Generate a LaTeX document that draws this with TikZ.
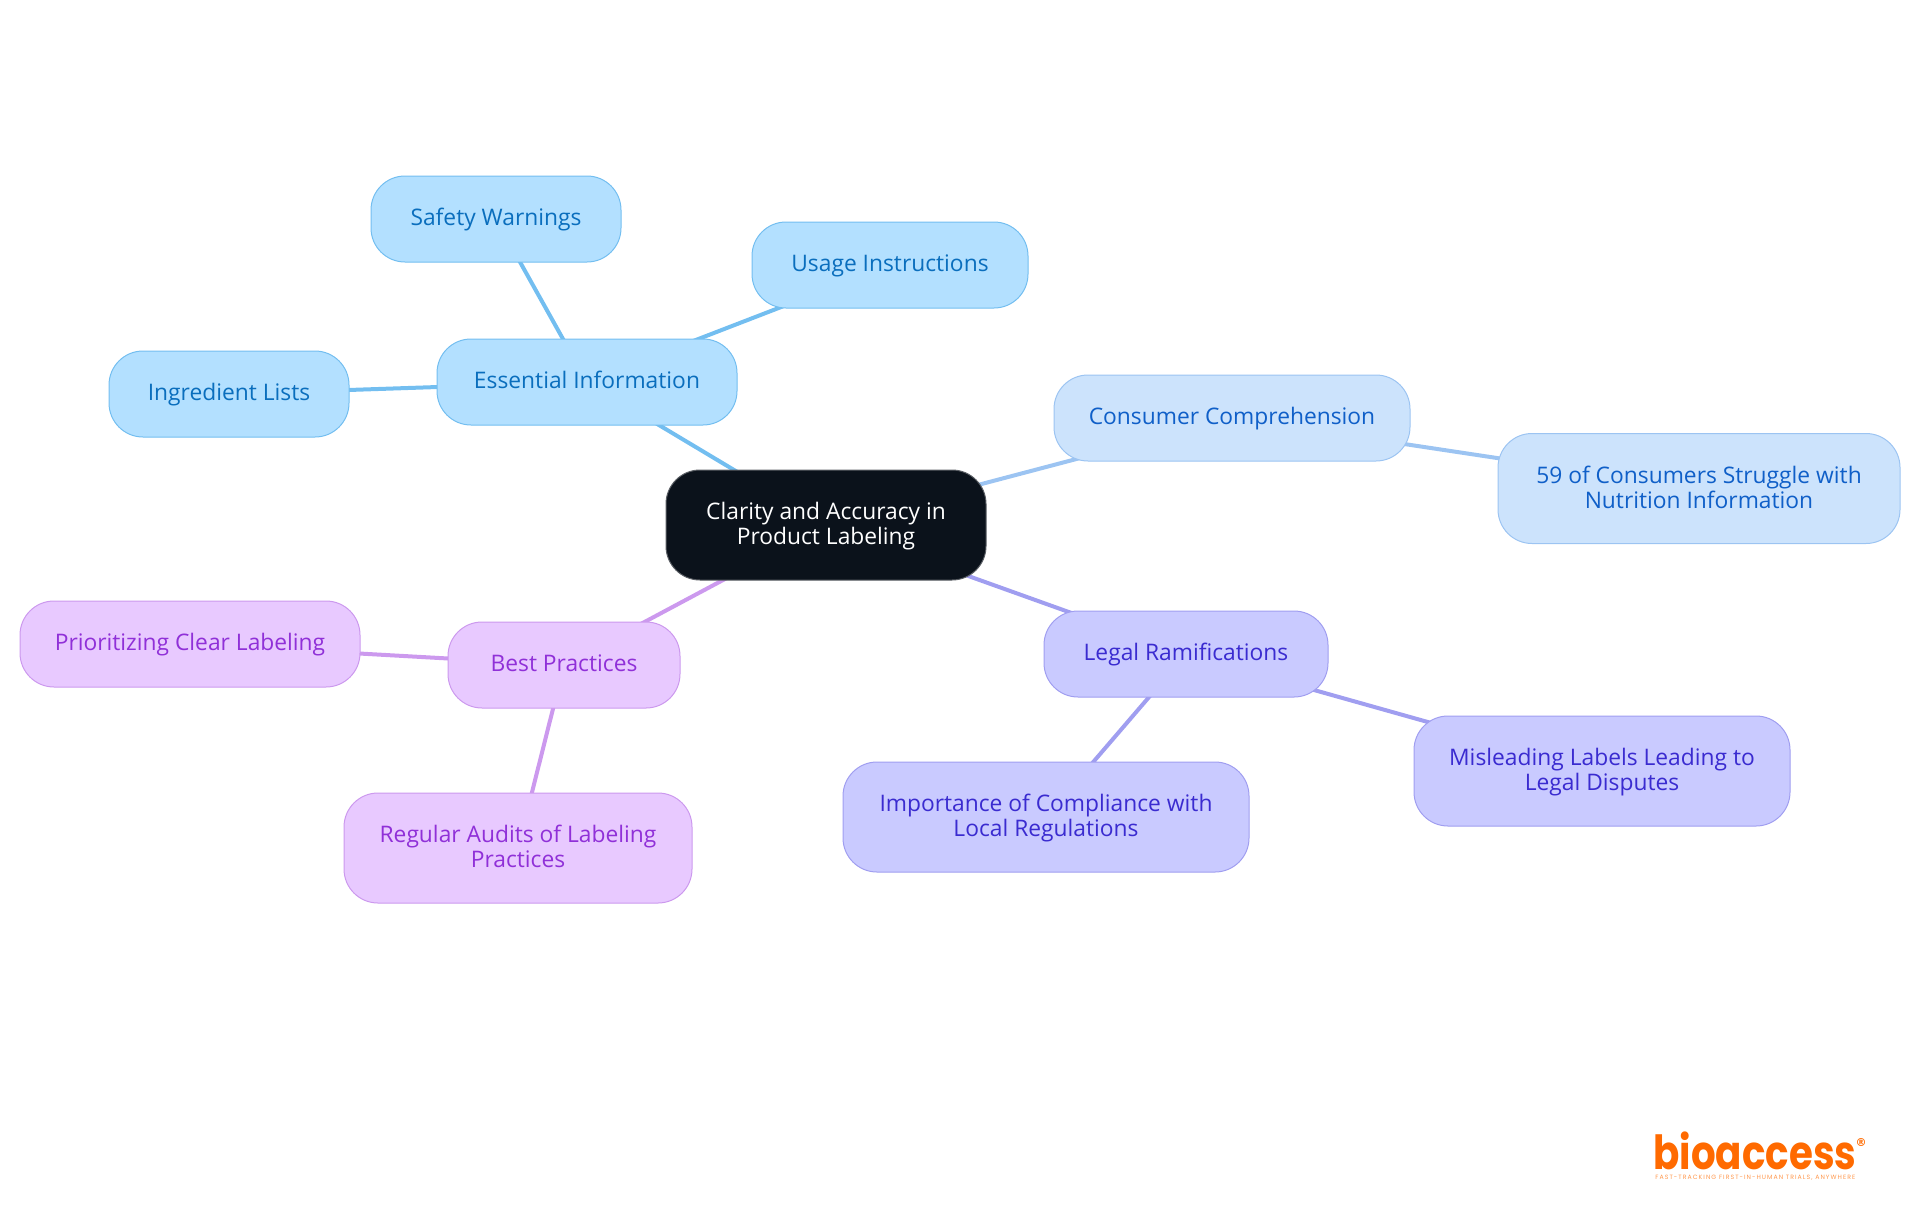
\documentclass[tikz,border=0pt]{standalone}
\usepackage{fontspec}
\setmainfont{Open Sans}
\newfontfamily\logofont{Poppins}
\newfontfamily\markfont{DejaVu Sans}
\newfontfamily\tagfont[LetterSpace=17]{Poppins}
\usetikzlibrary{backgrounds}
\definecolor{rootfill}{HTML}{0B121B}
\definecolor{rootline}{HTML}{5A5E64}
\definecolor{infofill}{HTML}{B3E0FF}
\definecolor{infoline}{HTML}{73BEF0}
\definecolor{infotext}{HTML}{0A6EBD}
\definecolor{consfill}{HTML}{CCE3FC}
\definecolor{consline}{HTML}{9CC4F2}
\definecolor{constext}{HTML}{0F5FC8}
\definecolor{legalfill}{HTML}{C9CAFF}
\definecolor{legalline}{HTML}{A09EF0}
\definecolor{legaltext}{HTML}{3A2BD0}
\definecolor{bestfill}{HTML}{E8C9FF}
\definecolor{bestline}{HTML}{CC99EE}
\definecolor{besttext}{HTML}{9030D8}
\definecolor{logoorange}{HTML}{FF6A00}
\tikzset{
    topic/.style={draw, rectangle, rounded corners=17pt, line width=0.5pt, align=center, inner sep=0pt,
        font=\fontsize{11.4}{12.5}\selectfont},
    oneline/.style={text height=0.9em, text depth=0.3em},
    twoline/.style={text height=22.3pt, text depth=2.8pt},
    rootbox/.style={topic, fill=rootfill, draw=rootline, text=white},
    infobox/.style={topic, oneline, fill=infofill, draw=infoline, text=infotext},
    consbox/.style={topic, fill=consfill, draw=consline, text=constext},
    legalbox/.style={topic, fill=legalfill, draw=legalline, text=legaltext},
    bestbox/.style={topic, fill=bestfill, draw=bestline, text=besttext},
    link/.style={line width=2pt}
}
\begin{document}
\begin{tikzpicture}[x=0.5pt, y=-0.5pt]
    \useasboundingbox (0, 0) rectangle (1920, 1215);

    \node[rootbox, twoline, minimum width=160pt, minimum height=55pt] (root) at (826, 525) {Clarity and Accuracy in\\Product Labeling};

    \node[infobox, minimum width=150pt, minimum height=43pt] (essential) at (587, 382) {Essential Information};
    \node[infobox, minimum width=125pt, minimum height=43pt] (safety) at (496, 219) {Safety Warnings};
    \node[infobox, minimum width=138pt, minimum height=43pt] (usage) at (890, 265) {Usage Instructions};
    \node[infobox, minimum width=120pt, minimum height=43pt] (ingredient) at (229, 394) {Ingredient Lists};

    \node[consbox, oneline, minimum width=178pt, minimum height=43pt] (consumer) at (1232, 418) {Consumer Comprehension};
    \node[consbox, twoline, minimum width=201pt, minimum height=55pt] (nutrition) at (1699, 488.5) {59 of Consumers Struggle with\\Nutrition Information};

    \node[legalbox, oneline, minimum width=142pt, minimum height=43pt] (legal) at (1186, 654) {Legal Ramifications};
    \node[legalbox, twoline, minimum width=188pt, minimum height=55pt] (disputes) at (1602, 771) {Misleading Labels Leading to\\Legal Disputes};
    \node[legalbox, twoline, minimum width=203pt, minimum height=55pt] (compliance) at (1046, 817) {Importance of Compliance with\\Local Regulations};

    \node[bestbox, oneline, minimum width=116pt, minimum height=43pt] (best) at (564, 665) {Best Practices};
    \node[bestbox, oneline, minimum width=170pt, minimum height=43pt] (clear) at (190, 644) {Prioritizing Clear Labeling};
    \node[bestbox, twoline, minimum width=174pt, minimum height=55pt] (audits) at (518, 848) {Regular Audits of Labeling\\Practices};

    \begin{scope}[on background layer]
        \draw[link, infoline] (root.center) -- (essential.center);
        \draw[link, infoline] (essential.center) -- (safety.center);
        \draw[link, infoline] (essential.center) -- (usage.center);
        \draw[link, infoline] (essential.center) -- (ingredient.center);
        \draw[link, consline] (root.center) -- (consumer.center);
        \draw[link, consline] (consumer.center) -- (nutrition.center);
        \draw[link, legalline] (root.center) -- (legal.center);
        \draw[link, legalline] (legal.center) -- (disputes.center);
        \draw[link, legalline] (legal.center) -- (compliance.center);
        \draw[link, bestline] (root.center) -- (best.center);
        \draw[link, bestline] (best.center) -- (clear.center);
        \draw[link, bestline] (best.center) -- (audits.center);
    \end{scope}

    % logo
    \node[inner sep=0pt, anchor=base west, text=logoorange, font=\logofont\bfseries\fontsize{23.5}{24}\selectfont] (logo) at (1653, 1169) {\scalebox{0.825}[1]{bioaccess}};
    \node[inner sep=0pt, text=logoorange, font=\markfont\bfseries\fontsize{5.5}{6}\selectfont] (mark) at (1861, 1142) {®};
    \node[inner sep=0pt, anchor=base west, text=logoorange!70, font=\tagfont\fontsize{3.1}{4}\selectfont] (tagline) at (1655, 1179) {FAST-TRACKING FIRST-IN-HUMAN TRIALS, ANYWHERE};
\end{tikzpicture}
\end{document}
